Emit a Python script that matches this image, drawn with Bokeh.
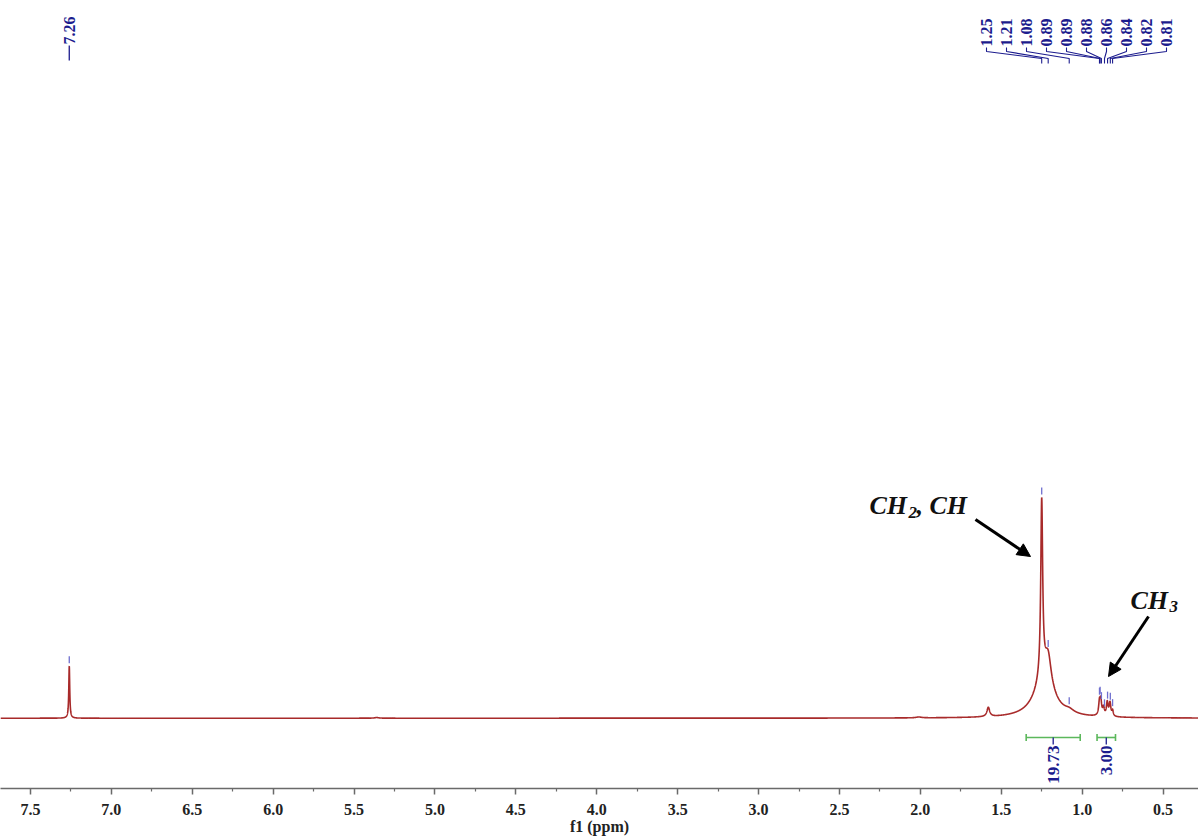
import numpy as np
from bokeh.plotting import figure
from bokeh.models import (Range1d, FixedTicker, PrintfTickFormatter, Arrow,
                          NormalHead)
from bokeh.embed import file_html
from bokeh.resources import INLINE
from bokeh.core.properties import value

# ---- spectrum: peak list (shift in ppm, height relative to the CH2 line, FWHM in ppm)
peak_ppm = [7.26, 5.36, 2.01, 1.58, 1.25, 1.21, 1.235, 1.08,
            0.893, 0.885, 0.868, 0.845, 0.828, 0.812]
peak_height = [0.236, 0.003, 0.004, 0.042, 0.80, 0.125, 0.18, 0.014,
               0.058, 0.064, 0.036, 0.062, 0.060, 0.025]
peak_fwhm = [0.007, 0.03, 0.04, 0.02, 0.014, 0.045, 0.14, 0.07,
             0.012, 0.012, 0.012, 0.012, 0.012, 0.010]

# picked peaks shown at the top
top_labels = ["1.25", "1.21", "1.08", "0.89", "0.89", "0.88", "0.86", "0.84", "0.82", "0.81"]
top_label_ppm = [1.25, 1.21, 1.08, 0.893, 0.889, 0.881, 0.862, 0.843, 0.826, 0.812]
solvent_label = "7.26"
solvent_ppm = 7.26

# integrals: (from, to) in ppm and values
integral_from = [1.346, 0.908]
integral_to = [1.012, 0.794]
integral_values = ["19.73", "3.00"]

x_ticks = [0.5, 1.0, 1.5, 2.0, 2.5, 3.0, 3.5, 4.0, 4.5, 5.0, 5.5, 6.0, 6.5, 7.0, 7.5]
x_minor = [0.75, 1.25, 1.75, 2.25, 2.75, 3.25, 3.75, 4.25, 4.75, 5.25, 5.75,
           6.25, 6.75, 7.25]

# ---- geometry
W, H = 1198, 839
X_LEFT, X_RIGHT = 7.685, 0.281
FRAME_BOTTOM = 788          # pixel row of the axis line
BASE_PX = 717.7             # pixel row of the spectrum baseline
UNIT_PX = 220.0             # pixels per unit of intensity
PX_PER_PPM = W / (X_LEFT - X_RIGHT)

def ppm_at(px):
    return X_LEFT - px / PX_PER_PPM

def val_at(py):
    return (BASE_PX - py) / UNIT_PX

def spectrum(x):
    y = np.zeros_like(x)
    for c, h, w in zip(peak_ppm, peak_height, peak_fwhm):
        y += h / (1.0 + ((x - c) / (w / 2.0)) ** 2)
    return y

LINE = "#a82a2a"
NAVY = "#1c1c8e"
MARK = "#6f6fcf"
GREEN = "#5cb85c"
SERIF = "Liberation Serif"

p = figure(width=W, height=H, output_backend="svg", toolbar_location=None,
           x_range=Range1d(X_LEFT, X_RIGHT),
           y_range=Range1d(val_at(FRAME_BOTTOM), val_at(0)),
           min_border_left=0, min_border_right=0, min_border_top=0,
           min_border_bottom=H - FRAME_BOTTOM)
p.outline_line_color = None
p.background_fill_color = "white"
p.border_fill_color = "white"
p.grid.visible = False
p.yaxis.visible = False

ax = p.xaxis[0]
ax.ticker = FixedTicker(ticks=x_ticks, minor_ticks=x_minor)
ax.formatter = PrintfTickFormatter(format="%.1f")
ax.axis_line_color = "#6a6a6a"
ax.axis_line_width = 1.5
ax.major_tick_line_color = "#6a6a6a"
ax.minor_tick_line_color = "#6a6a6a"
ax.major_tick_line_width = 1.5
ax.minor_tick_line_width = 1.2
ax.major_tick_in = 0
ax.major_tick_out = 6
ax.minor_tick_in = 0
ax.minor_tick_out = 3
ax.major_label_text_font = SERIF
ax.major_label_text_font_style = "bold"
ax.major_label_text_font_size = "16px"
ax.major_label_text_color = "#222222"
ax.major_label_standoff = 9
ax.axis_label = "f1 (ppm)"
ax.axis_label_text_font = SERIF
ax.axis_label_text_font_style = "bold"
ax.axis_label_text_font_size = "16px"
ax.axis_label_text_color = "#222222"
ax.axis_label_standoff = 0

# ---- spectrum trace
xs = np.linspace(X_LEFT, X_RIGHT, 24000)
p.line(xs, spectrum(xs), line_color=LINE, line_width=1.6)

# ---- small peak markers above the picked peaks
mk_ppm = [solvent_ppm] + top_label_ppm
mk_top = spectrum(np.array(mk_ppm))
p.segment(x0=mk_ppm, x1=mk_ppm,
          y0=mk_top + 3 / UNIT_PX, y1=mk_top + 10 / UNIT_PX,
          line_color=MARK, line_width=1.3)

# ---- peak labels at the top
label_px = [986 + 20 * i for i in range(len(top_labels))]
label_x = [ppm_at(v) for v in label_px]
p.text(x=label_x, y=[val_at(46)] * len(top_labels), text=top_labels,
       angle=np.pi / 2, text_align="left", text_baseline="middle",
       text_font=value(SERIF), text_font_style="bold",
       text_font_size="16px", text_color=NAVY)
p.text(x=[solvent_ppm], y=[val_at(44)], text=[solvent_label],
       angle=np.pi / 2, text_align="left", text_baseline="middle",
       text_font=value(SERIF), text_font_style="bold",
       text_font_size="16px", text_color=NAVY)
p.segment(x0=[solvent_ppm], x1=[solvent_ppm], y0=[val_at(45)], y1=[val_at(60)],
          line_color=NAVY, line_width=1.3)

# connector lines from labels down to the peak positions
cx, cy = [], []
for lx, pk in zip(label_x, top_label_ppm):
    cx.append([lx, lx, pk, pk])
    cy.append([val_at(47), val_at(51), val_at(58), val_at(63)])
p.multi_line(cx, cy, line_color=NAVY, line_width=1.1)

# ---- integrals
bar_y = val_at(737)
cap = 3.5 / UNIT_PX
p.segment(x0=integral_from, x1=integral_to, y0=[bar_y] * 2, y1=[bar_y] * 2,
          line_color=GREEN, line_width=1.6)
p.segment(x0=integral_from + integral_to, x1=integral_from + integral_to,
          y0=[bar_y - cap] * 4, y1=[bar_y + cap] * 4,
          line_color=GREEN, line_width=1.6)
mid = [(a + b) / 2 for a, b in zip(integral_from, integral_to)]
p.segment(x0=mid, x1=mid, y0=[bar_y] * 2, y1=[val_at(744)] * 2,
          line_color=NAVY, line_width=1.3)
p.text(x=mid, y=[val_at(745)] * 2, text=integral_values,
       angle=np.pi / 2, text_align="right", text_baseline="middle",
       text_font=value(SERIF), text_font_style="bold",
       text_font_size="17px", text_color=NAVY)

# ---- group annotations
def put(txt, px, py, size):
    p.text(x=[ppm_at(px)], y=[val_at(py)], text=[txt],
           text_align="left", text_baseline="alphabetic",
           text_font=value(SERIF), text_font_style="bold italic",
           text_font_size=size, text_color="#111111")

put("CH", 869, 505, "26px")
put("2", 908, 512, "17px")
put(", CH", 916, 505, "26px")
put("CH", 1130, 600, "26px")
put("3", 1169, 606, "17px")

for (x0, y0, x1, y1) in [(975, 519, 1030, 556), (1148, 616, 1108, 676)]:
    p.add_layout(Arrow(end=NormalHead(size=13, fill_color="black",
                                      line_color="black"),
                       x_start=ppm_at(x0), y_start=val_at(y0),
                       x_end=ppm_at(x1), y_end=val_at(y1),
                       line_color="black", line_width=3))

open("out.html", "w").write(file_html(p, INLINE))
